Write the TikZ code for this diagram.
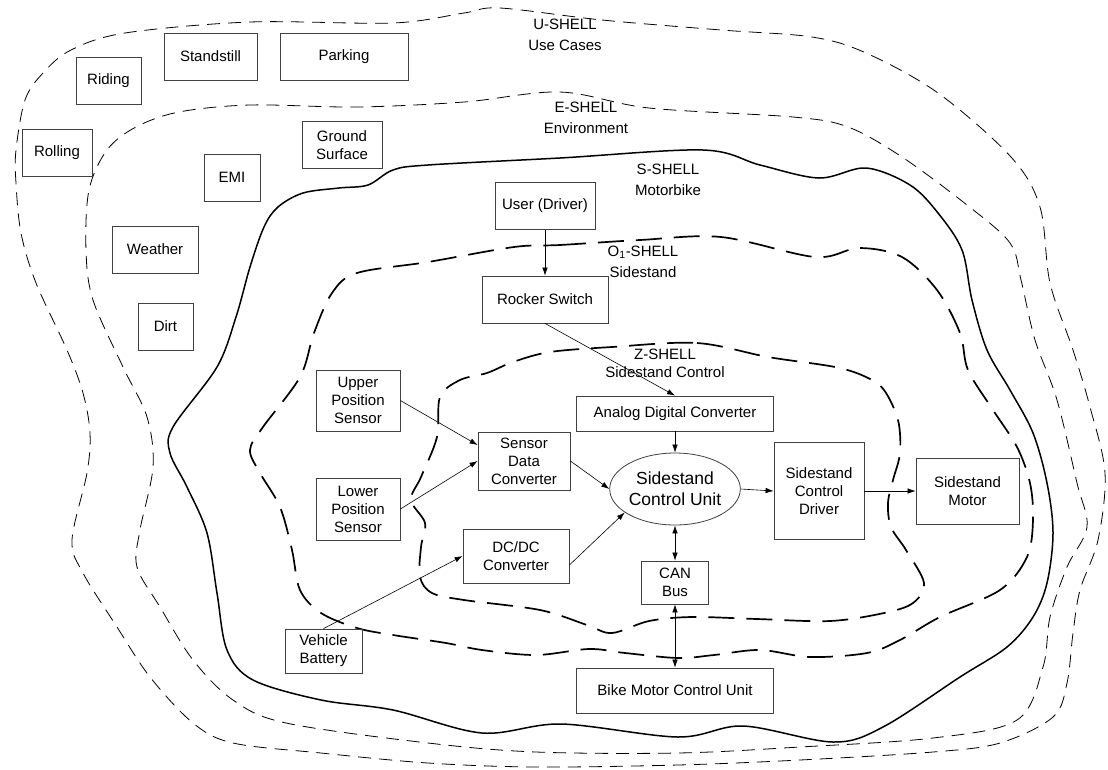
\documentclass[tikz,border=0pt]{standalone}
\usepackage{fontspec}
\setmainfont{Liberation Sans}
\usetikzlibrary{arrows.meta,shapes.geometric}

\begin{document}
\begin{tikzpicture}[x=1pt, y=-1pt,
  box/.style={draw=black!75, line width=0.8pt, align=center, inner sep=2pt, font=\fontsize{15}{18}\selectfont},
  usecase/.style={box, minimum height=47pt},
  shellthin/.style={line width=0.8pt, dash pattern=on 13pt off 8pt},
  shellthick/.style={line width=1.7pt, dash pattern=on 26pt off 12pt},
  shellsolid/.style={line width=1.5pt},
  shelltag/.style={align=center, font=\fontsize{15}{21}\selectfont},
  link/.style={-{Latex[length=8pt,width=5.5pt]}, line width=0.6pt},
  duplex/.style={{Latex[length=8pt,width=5.5pt]}-{Latex[length=8pt,width=5.5pt]}, line width=0.6pt}]

\useasboundingbox (0,0) rectangle (1108,769);

\draw[shellthin] plot[smooth cycle, tension=0.55] coordinates {(500,8) (602,20) (721,30) (812,37) (866,53) (938,93) (1011,157) (1040,207) (1050,283) (1073,350) (1090,407) (1105,473) (1098,540) (1080,590) (1073,633) (1067,683) (1053,717) (1000,743) (933,752) (800,760) (678,765) (536,767) (428,763) (321,753) (233,743) (193,723) (150,677) (117,627) (83,573) (72,540) (87,473) (90,433) (83,393) (67,350) (36,283) (21,233) (16,183) (16,150) (25,100) (43,73) (71,50) (125,33) (250,22) (393,23) (464,13)};
\draw[shellthin] plot[smooth cycle, tension=0.55] coordinates {(464,102) (560,92) (649,108) (793,117) (848,127) (902,157) (967,205) (1010,243) (1021,280) (1035,340) (1057,400) (1077,483) (1087,527) (1067,567) (1050,617) (1043,667) (1017,720) (933,738) (800,747) (678,753) (536,752) (428,743) (286,723) (233,700) (193,660) (160,607) (137,567) (140,530) (153,467) (147,417) (123,367) (93,300) (86,250) (89,190) (107,150) (136,127) (179,112) (250,105) (357,107)};
\draw[shellsolid] plot[smooth cycle, tension=0.55] coordinates {(368,185) (393,170) (428,165) (560,158) (703,150) (760,165) (819,178) (866,168) (910,185) (938,213) (962,250) (972,300) (987,350) (1010,390) (1033,433) (1047,483) (1053,533) (1047,583) (1033,617) (1007,647) (960,677) (883,727) (833,742) (743,726) (678,737) (561,724) (482,733) (393,710) (321,700) (253,680) (227,650) (217,593) (207,533) (187,487) (170,453) (173,427) (217,367) (236,317) (250,267) (264,227) (278,207) (303,193) (339,188)};
\draw[shellthick] plot[smooth cycle, tension=0.55] coordinates {(514,247) (560,245) (640,240) (721,237) (815,257) (859,248) (902,257) (937,290) (960,333) (968,370) (993,410) (1017,447) (1030,483) (1033,520) (1027,557) (1000,590) (940,617) (900,640) (867,653) (810,657) (760,650) (714,655) (678,658) (625,653) (589,649) (536,655) (482,650) (446,643) (393,635) (357,628) (321,613) (300,590) (292,550) (280,507) (260,473) (250,450) (263,427) (300,377) (314,333) (332,293) (357,273) (428,262)};
\draw[shellthick] plot[smooth cycle, tension=0.55] coordinates {(612,347) (697,343) (768,357) (835,367) (866,377) (884,390) (898,420) (900,453) (893,480) (888,503) (891,527) (906,550) (924,583) (913,603) (884,613) (830,621) (757,619) (692,617) (649,621) (612,633) (587,625) (540,610) (464,600) (432,593) (420,577) (421,547) (425,523) (411,500) (421,477) (437,437) (440,397) (460,380) (487,373) (513,362) (550,352)};

\node[shelltag] (ushell) at (565,35) {U-SHELL\\Use Cases};
\node[shelltag] (eshell) at (586,118) {E-SHELL\\Environment};
\node[shelltag] (sshell) at (668,180) {S-SHELL\\Motorbike};
\node[shelltag] (oshell) at (643,262) {O\textsubscript{1}-SHELL\\Sidestand};
\node[shelltag, font=\fontsize{15}{18}\selectfont] (zshell) at (665,363) {Z-SHELL\\Sidestand Control};

\node[usecase, minimum width=93pt] (standstill) at (210.5,56.5) {Standstill};
\node[usecase, minimum width=128pt] (parking) at (344,56.5) {Parking};
\node[usecase, minimum width=65pt] (riding) at (108.5,80.5) {Riding};
\node[usecase, minimum width=70pt] (rolling) at (57,152.5) {Rolling};
\node[usecase, minimum width=80pt] (ground) at (342,145) {Ground\\Surface};
\node[usecase, minimum width=56pt] (emi) at (232,177.5) {EMI};
\node[usecase, minimum width=86pt] (weather) at (155,249.5) {Weather};
\node[usecase, minimum width=55pt] (dirt) at (165.5,326.5) {Dirt};

\node[usecase, minimum width=100pt] (user) at (545,206) {User (Driver)};
\node[usecase, minimum width=126pt] (rocker) at (545,299.5) {Rocker Switch};
\node[box, minimum width=84pt, minimum height=61pt] (upper) at (358,400.5) {Upper\\Position\\Sensor};
\node[box, minimum width=84pt, minimum height=62pt] (lower) at (358,509) {Lower\\Position\\Sensor};
\node[box, minimum width=92pt, minimum height=58pt] (sdc) at (524,461) {Sensor\\Data\\Converter};
\node[box, minimum width=106pt, minimum height=54pt] (dcdc) at (516,556) {DC/DC\\Converter};
\node[box, minimum width=77pt, minimum height=44pt] (battery) at (323.5,651) {Vehicle\\Battery};
\node[box, minimum width=197pt, minimum height=35pt] (adc) at (675,413.5) {Analog Digital Converter};
\node[box, ellipse, inner sep=0pt, minimum width=128pt, minimum height=72pt, font=\fontsize{17.5}{21}\selectfont] (scu) at (675,489) {Sidestand\\Control Unit};
\node[box, minimum width=90pt, minimum height=97pt] (driver) at (819,491) {Sidestand\\Control\\Driver};
\node[box, minimum width=103pt, minimum height=66pt] (motor) at (967.5,491) {Sidestand\\Motor};
\node[box, minimum width=67pt, minimum height=43pt] (can) at (675,582.5) {CAN\\Bus};
\node[box, minimum width=197pt, minimum height=45pt] (bmcu) at (675,690.5) {Bike Motor Control Unit};

\draw[link] (user) -- (rocker);
\draw[link] (rocker.south) -- (adc.north);
\draw[link] (adc) -- (scu);
\draw[link] (upper.east) -- ([yshift=16pt]sdc.west);
\draw[link] (lower.east) -- (sdc.west);
\draw[link] (sdc.east) -- (scu.west);
\draw[link] ([yshift=-9pt]dcdc.east) -- (scu.205);
\draw[link] (battery.north) -- (dcdc.west);
\draw[link] (scu.east) -- (driver.west);
\draw[link] (driver) -- (motor);
\draw[duplex] (scu) -- (can);
\draw[duplex] (can) -- (bmcu);
\end{tikzpicture}
\end{document}
